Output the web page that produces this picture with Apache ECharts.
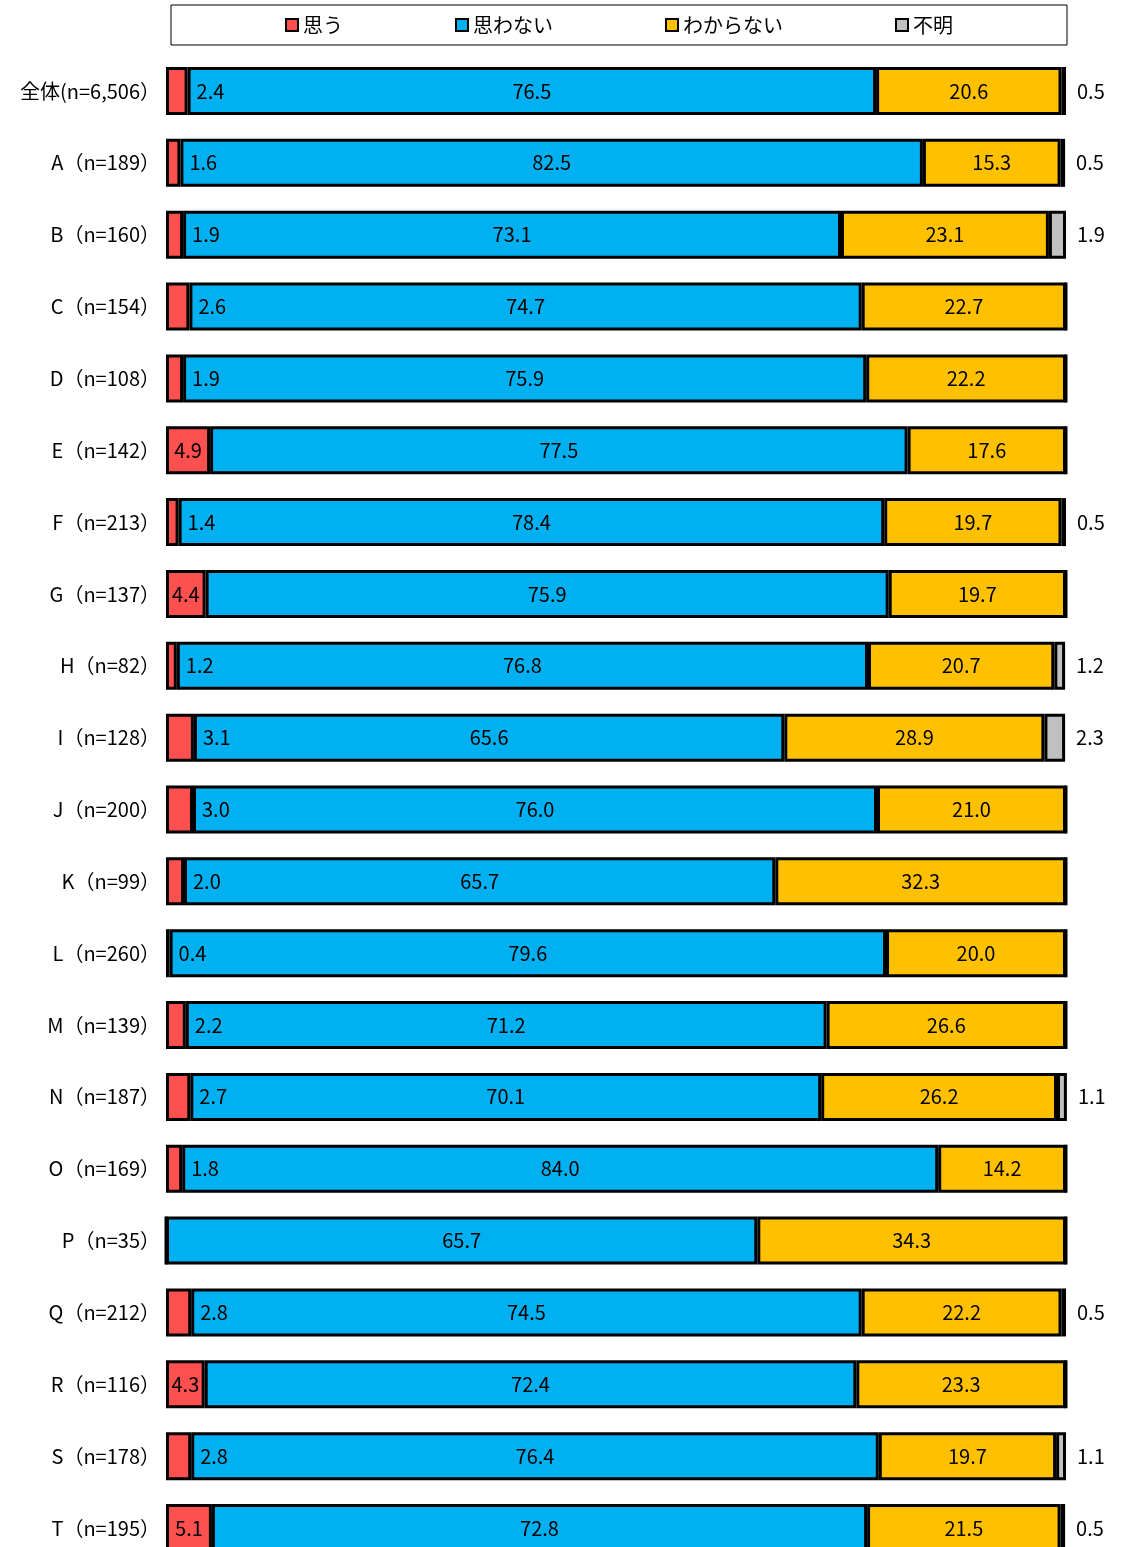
<!DOCTYPE html>
<html><head><meta charset="utf-8">
<script src="https://cdn.jsdelivr.net/npm/echarts@6/dist/echarts.min.js"></script>
<style>html,body{margin:0;padding:0;background:#fff}#c{width:1125px;height:1547px}</style>
</head><body><div id="c"></div>
<script>
const categories = ['全体(n=6,506）','A（n=189）','B（n=160）','C（n=154）','D（n=108）','E（n=142）','F（n=213）','G（n=137）','H（n=82）','I（n=128）','J（n=200）','K（n=99）','L（n=260）','M（n=139）','N（n=187）','O（n=169）','P（n=35）','Q（n=212）','R（n=116）','S（n=178）','T（n=195）'];
const seriesNames = ['思う','思わない','わからない','不明'];
const omou    = [2.4,1.6,1.9,2.6,1.9,4.9,1.4,4.4,1.2,3.1,3.0,2.0,0.4,2.2,2.7,1.8,0,2.8,4.3,2.8,5.1];
const omowanai= [76.5,82.5,73.1,74.7,75.9,77.5,78.4,75.9,76.8,65.6,76.0,65.7,79.6,71.2,70.1,84.0,65.7,74.5,72.4,76.4,72.8];
const wakaranai=[20.6,15.3,23.1,22.7,22.2,17.6,19.7,19.7,20.7,28.9,21.0,32.3,20.0,26.6,26.2,14.2,34.3,22.2,23.3,19.7,21.5];
const fumei   = [0.5,0.5,1.9,0,0,0,0.5,0,1.2,2.3,0,0,0,0,1.1,0,0,0.5,0,1.1,0.5];

const colors = ['#FF5050','#00B0F0','#FFC000','#C0C0C0'];
const FONT = '"Noto Sans CJK JP", "Noto Sans", sans-serif';
const fmt = p => p.value > 0 ? p.value.toFixed(1) : '';
const lbl = {color:'#000', fontSize:20, fontFamily:FONT};

function omouData(){
  return omou.map(v => v >= 4 ? {value:v, label:{position:'inside'}} : {value:v, label:{position:'right', distance:9}});
}

const base = {type:'bar', stack:'s', barWidth:48, itemStyle:{borderColor:'#000', borderWidth:3}, emphasis:{disabled:true}};
const chart = echarts.init(document.getElementById('c'));
chart.setOption({
  animation:false,
  legend:{
    top:5, left:171, padding:[10,114,10,114], itemGap:112,
    borderColor:'#000', borderWidth:1,
    itemWidth:12, itemHeight:12, icon:'rect',
    itemStyle:{borderColor:'#000', borderWidth:2},
    textStyle:{fontSize:20, fontFamily:FONT, color:'#000'},
    data:seriesNames
  },
  grid:{left:166, top:91, width:900, height:1437},
  xAxis:{type:'value', min:0, max:100, show:false},
  yAxis:{type:'category', data:categories, inverse:true, boundaryGap:false,
    axisLine:{show:false}, axisTick:{show:false}, splitLine:{show:false},
    axisLabel:{margin:6, fontSize:20, fontFamily:FONT, color:'#000'}},
  series:[
    Object.assign({}, base, {name:seriesNames[0], data:omouData(), itemStyle:Object.assign({}, base.itemStyle, {color:colors[0]}), label:Object.assign({show:true, formatter:fmt}, lbl)}),
    Object.assign({}, base, {name:seriesNames[1], data:omowanai, itemStyle:Object.assign({}, base.itemStyle, {color:colors[1]}), label:Object.assign({show:true, position:'inside', formatter:fmt}, lbl)}),
    Object.assign({}, base, {name:seriesNames[2], data:wakaranai, itemStyle:Object.assign({}, base.itemStyle, {color:colors[2]}), label:Object.assign({show:true, position:'inside', formatter:fmt}, lbl)}),
    Object.assign({}, base, {name:seriesNames[3], data:fumei, itemStyle:Object.assign({}, base.itemStyle, {color:colors[3]}), label:Object.assign({show:true, position:'right', distance:11, formatter:fmt}, lbl)})
  ]
});
</script></body></html>
